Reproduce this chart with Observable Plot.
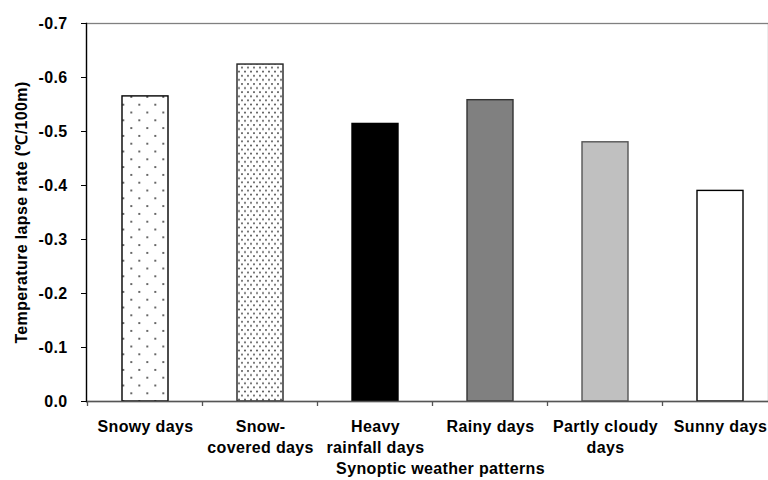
<!DOCTYPE html>
<html>
<head>
<meta charset="utf-8">
<script src="https://cdn.jsdelivr.net/npm/d3@7"></script>
<script src="https://cdn.jsdelivr.net/npm/@observablehq/plot@0.6"></script>
<style>
  html, body { margin: 0; padding: 0; background: #fff; overflow: hidden; }
</style>
</head>
<body>
<div id="chart"></div>
<script>
const categories = ["Snowy days", "Snow-\ncovered days", "Heavy\nrainfall days", "Rainy days", "Partly cloudy\ndays", "Sunny days"];
const values = [-0.565, -0.624, -0.514, -0.558, -0.480, -0.390];
const fills = ["url(#sparseDots)", "url(#denseDots)", "#000000", "#808080", "#c0c0c0", "#ffffff"];
const strokes = ["#000000", "#222222", "#000000", "#333333", "#555555", "#000000"];
const yTicks = [0, -0.1, -0.2, -0.3, -0.4, -0.5, -0.6, -0.7];
const yTitle = "Temperature lapse rate (℃/100m)";
const xTitle = "Synoptic weather patterns";

const data = categories.map((c, i) => ({cat: c, value: values[i], fill: fills[i], stroke: strokes[i]}));

const chart = Plot.plot({
  width: 768,
  height: 480,
  marginTop: 23,
  marginBottom: 79,
  marginLeft: 86,
  marginRight: 0,
  style: {fontFamily: "'Liberation Sans', Arial, sans-serif", fontWeight: "bold", fontSize: "16px", letterSpacing: "0.35px", color: "#000", background: "#fff"},
  x: {domain: categories, range: [86, 779.5], paddingInner: 0.6, paddingOuter: 0.3, align: 0.5},
  y: {domain: [0, -0.7]},
  color: {type: "identity"},
  marks: [
    Plot.frame({stroke: "#808080", strokeWidth: 1.3}),
    Plot.barY(data, {x: "cat", y: "value", fill: "fill", stroke: "stroke", strokeWidth: 1.4}),
    Plot.ruleY([0], {stroke: "#555", strokeWidth: 1.5}),
    Plot.frame({anchor: "left", stroke: "#000", strokeWidth: 1.3}),
    Plot.axisY({ticks: yTicks, tickSize: 5, tickPadding: 14, tickFormat: d => d === 0 ? "0.0" : d.toFixed(1), label: null, stroke: "#000"}),
    Plot.axisX({tickSize: 0, tickPadding: 15, lineHeight: 1.35, label: null}),
    Plot.text([yTitle], {frameAnchor: "left", textAnchor: "middle", rotate: -90, dx: -65, lineAnchor: "middle"}),
    Plot.text([xTitle], {frameAnchor: "bottom", textAnchor: "middle", dx: 13, dy: 67, lineAnchor: "middle"})
  ]
});

// pattern fills
d3.select(chart).insert("defs", ":first-child").html(`
  <pattern id="sparseDots" patternUnits="userSpaceOnUse" x="3.3" y="3.3" width="16" height="15.6">
    <rect width="16" height="15.6" fill="#fff"/>
    <circle cx="0" cy="0" r="1" fill="#333"/>
    <circle cx="16" cy="0" r="1" fill="#333"/>
    <circle cx="0" cy="15.6" r="1" fill="#333"/>
    <circle cx="16" cy="15.6" r="1" fill="#333"/>
    <circle cx="8" cy="7.8" r="1" fill="#333"/>
  </pattern>
  <pattern id="denseDots" patternUnits="userSpaceOnUse" x="1" y="1" width="6" height="8.2">
    <rect width="6" height="8.2" fill="#fff"/>
    <circle cx="1" cy="1" r="0.95" fill="#444"/>
    <circle cx="4" cy="5.1" r="0.95" fill="#444"/>
  </pattern>
`);

// boundary ticks on the category axis, from the x scale
const xs = chart.scale("x");
const ys = chart.scale("y");
const y0 = ys.apply(0);
const g = d3.select(chart).append("g").attr("stroke", "#555").attr("stroke-width", 1.3);
categories.forEach(c => {
  const bx = xs.apply(c) - xs.step * xs.paddingInner / 2;
  g.append("line").attr("x1", bx).attr("x2", bx).attr("y1", y0).attr("y2", y0 + 5);
});

document.getElementById("chart").appendChild(chart);
</script>
</body>
</html>
